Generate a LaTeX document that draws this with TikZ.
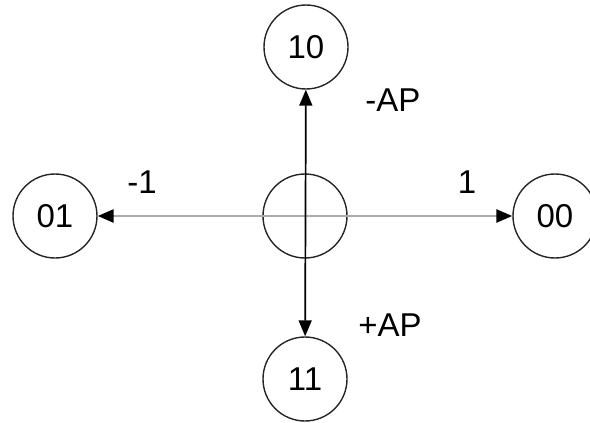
\documentclass[tikz,border=0pt]{standalone}
\usepackage{fontspec}
\setmainfont{Liberation Sans}
\usetikzlibrary{arrows.meta}
\begin{document}
\begin{tikzpicture}[x=1pt,y=-1pt,
  state/.style={draw=black!85,line width=1.4pt,circle,minimum size=84pt,inner sep=0pt,font=\fontsize{33}{38}\selectfont},
  lbl/.style={font=\fontsize{33}{38}\selectfont,inner sep=0pt}]
\useasboundingbox (0,0) rectangle (590,423);
\node[state] (c) at (305,216) {};
\node[state] (t) at (306,47) {10};
\node[state] (b) at (305,379) {11};
\node[state] (l) at (55,216) {01};
\node[state] (r) at (555,216) {00};
\draw[line width=2.6pt,black!33,{Triangle[length=16pt,width=13pt,fill=black,color=black]}-{Triangle[length=16pt,width=13pt,fill=black,color=black]}] (l) -- (r);
\draw[line width=1.7pt,black,{Triangle[length=16pt,width=13pt]}-{Triangle[length=16pt,width=13pt]}] (t) -- (b);
\node[lbl] (m1) at (142,182) {-1};
\node[lbl] (p1) at (467,182) {1};
\node[lbl] (map) at (393,100) {-AP};
\node[lbl] (pap) at (390,325) {+AP};
\end{tikzpicture}
\end{document}
